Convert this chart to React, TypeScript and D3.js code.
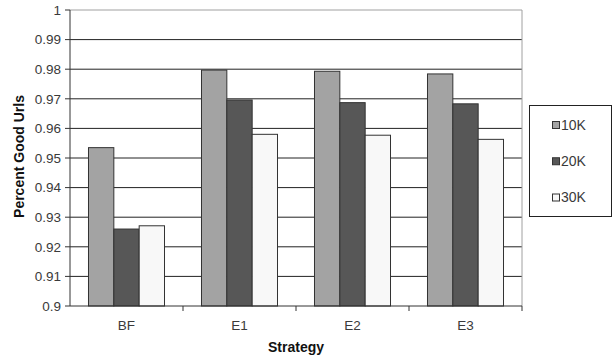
import * as d3 from 'd3';

const categories = ['BF', 'E1', 'E2', 'E3'];
const seriesNames = ['10K', '20K', '30K'];
const values10K = [0.9535, 0.9797, 0.9793, 0.9784];
const values20K = [0.926, 0.9696, 0.9687, 0.9683];
const values30K = [0.9271, 0.958, 0.9577, 0.9563];
const yTicks = [0.9, 0.91, 0.92, 0.93, 0.94, 0.95, 0.96, 0.97, 0.98, 0.99, 1];

const colors = ['#a3a3a3', '#575757', '#f8f8f8'];
const font = '"Liberation Sans", Arial, sans-serif';

export default function App() {
  const W = 613;
  const H = 360;
  const left = 70, right = 522, top = 10, bottom = 306;
  const series = [values10K, values20K, values30K];

  const x = d3.scaleBand<string>().domain(categories).range([left, right]).padding(0);
  const inner = d3.scaleBand<string>().domain(seriesNames).range([0, x.bandwidth()])
    .paddingInner(0).paddingOuter(0.73);
  const y = d3.scaleLinear().domain([0.9, 1]).range([bottom, top]);
  const fmt = (d: number) => (d === 1 ? '1' : d3.format('.2~f')(d));

  const legendY = d3.scalePoint<string>().domain(seriesNames).range([125, 197.5]);

  return (
    <svg width={W} height={H} style={{ position: 'absolute', left: 0, top: 0, background: '#fff' }}
      fontFamily={font}>
      {/* grid */}
      {yTicks.filter(t => t > 0.9 && t < 1).map(t => (
        <line key={t} x1={left} x2={right} y1={y(t)} y2={y(t)} stroke="#222" strokeWidth={1} />
      ))}
      {/* plot border top/right */}
      <line x1={left} x2={right} y1={y(1)} y2={y(1)} stroke="#a0a0a0" />
      <line x1={right} x2={right} y1={y(1)} y2={bottom} stroke="#a0a0a0" />

      {/* bars */}
      {categories.map((c, i) => (
        <g key={c}>
          {seriesNames.map((s, j) => (
            <rect key={s} x={(x(c) ?? 0) + (inner(s) ?? 0)} y={y(series[j][i])}
              width={inner.bandwidth()} height={bottom - y(series[j][i])}
              fill={colors[j]} stroke="#333" strokeWidth={1} />
          ))}
        </g>
      ))}

      {/* axes */}
      <line x1={left} x2={left} y1={y(1)} y2={bottom} stroke="#333" />
      <line x1={left} x2={right} y1={bottom} y2={bottom} stroke="#333" />
      {yTicks.map(t => (
        <g key={t}>
          <line x1={left - 5} x2={left} y1={y(t)} y2={y(t)} stroke="#333" />
          <text x={61} y={y(t)} dy="0.35em" textAnchor="end" fontSize={13.5} fill="#3a3a3a">{fmt(t)}</text>
        </g>
      ))}
      {categories.map((c, i) => (
        <g key={c}>
          <line x1={(x(c) ?? 0) + x.bandwidth()} x2={(x(c) ?? 0) + x.bandwidth()} y1={bottom} y2={bottom + 5} stroke="#333" />
          <text x={(x(c) ?? 0) + x.bandwidth() / 2} y={330} textAnchor="middle" fontSize={13.5} fill="#3a3a3a">{c}</text>
        </g>
      ))}

      <text x={296} y={352} textAnchor="middle" fontSize={14} fontWeight="bold" fill="#111">Strategy</text>
      <text transform="translate(24,156.5) rotate(-90)" textAnchor="middle" fontSize={14} fontWeight="bold" fill="#111">Percent Good Urls</text>

      {/* legend */}
      <rect x={529.5} y={105.5} width={82} height={111} fill="#fff" stroke="#222" />
      {seriesNames.map((s, j) => (
        <g key={s}>
          <rect x={552.5} y={legendY(s)! - 3.5} width={7} height={7} fill={colors[j]} stroke="#333" />
          <text x={561} y={legendY(s)!} dy="0.35em" fontSize={14} fill="#3a3a3a">{s}</text>
        </g>
      ))}
    </svg>
  );
}
